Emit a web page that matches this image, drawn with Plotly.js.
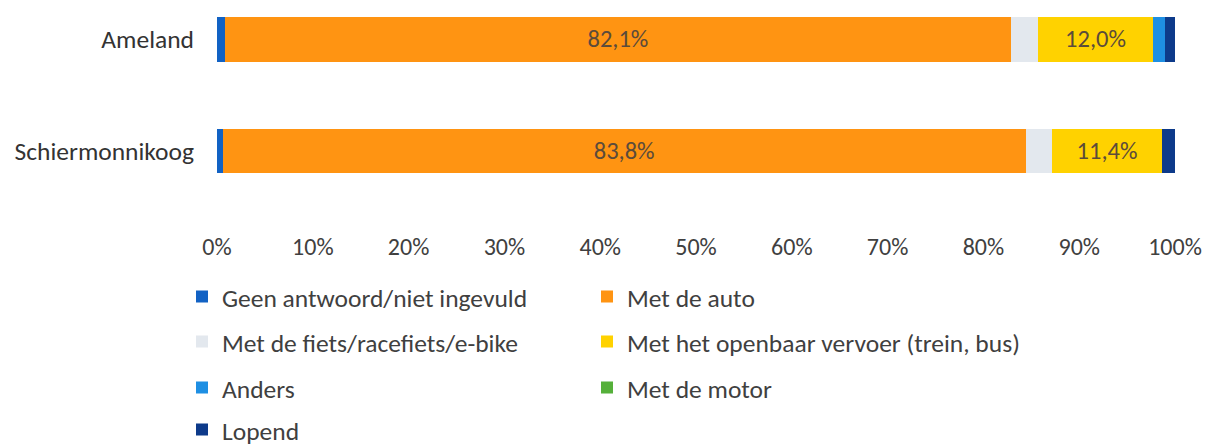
<!DOCTYPE html>
<html>
<head>
<meta charset="utf-8">
<script src="https://cdn.plot.ly/plotly-3.0.1.min.js"></script>
<style>html,body{margin:0;padding:0;background:#fff;}#chart{width:1218px;height:446px;}</style>
</head>
<body>
<div id="chart"></div>
<script>
const categories = ["Ameland", "Schiermonnikoog"];
const seriesNames = [
  "Geen antwoord/niet ingevuld",
  "Met de auto",
  "Met de fiets/racefiets/e-bike",
  "Met het openbaar vervoer (trein, bus)",
  "Anders",
  "Met de motor",
  "Lopend"
];
const geenAntwoord = [0.8, 0.6];
const metDeAuto = [82.1, 83.8];
const metDeFiets = [2.8, 2.8];
const openbaarVervoer = [12.0, 11.4];
const anders = [1.3, 0.0];
const metDeMotor = [0.0, 0.0];
const lopend = [1.0, 1.4];
const xTicks = [0, 10, 20, 30, 40, 50, 60, 70, 80, 90, 100];
const xTickLabels = ["0%", "10%", "20%", "30%", "40%", "50%", "60%", "70%", "80%", "90%", "100%"];

const seriesValues = [geenAntwoord, metDeAuto, metDeFiets, openbaarVervoer, anders, metDeMotor, lopend];
const colors = ["#1262C4", "#FF9412", "#E3E8EE", "#FFD200", "#1E8FE3", "#55B03A", "#0D3A8A"];
const labelled = [false, true, false, true, false, false, false];

const FONT = "Calibri, Carlito, Lato, sans-serif";
const legendPos = [
  [182, 297], [587, 297],
  [182, 342], [587, 342],
  [182, 388], [587, 388],
  [182, 430]
];

const traces = seriesValues.map((vals, i) => ({
  type: "bar",
  orientation: "h",
  name: seriesNames[i],
  y: categories,
  x: vals,
  width: 0.4,
  marker: {color: colors[i], line: {width: 0}},
  texttemplate: labelled[i] ? "%{x:.1f}%" : "",
  textposition: labelled[i] ? "inside" : "none",
  insidetextanchor: "middle",
  textangle: 0,
  constraintext: "none",
  textfont: {family: FONT, size: 24.5, color: "#5b4b3b"},
  hoverinfo: "x+name",
  legend: i === 0 ? "legend" : "legend" + (i + 1),
  showlegend: true
}));

const layout = {
  width: 1218,
  height: 446,
  margin: {l: 217, r: 43, t: 5, b: 221, autoexpand: false},
  paper_bgcolor: "#ffffff",
  plot_bgcolor: "#ffffff",
  barmode: "stack",
  separators: ",.",
  font: {family: FONT, size: 25.5, color: "#404040"},
  xaxis: {
    range: [0, 100],
    tickmode: "array",
    tickvals: xTicks,
    ticktext: xTickLabels,
    tickangle: 0,
    showgrid: false,
    zeroline: false,
    showline: false,
    ticks: "",
    ticklabelstandoff: 5,
    tickfont: {family: FONT, size: 24, color: "#404040"},
    automargin: false,
    fixedrange: true
  },
  yaxis: {
    type: "category",
    categoryorder: "array",
    categoryarray: categories,
    range: [1.667, -0.31],
    showgrid: false,
    zeroline: false,
    showline: false,
    ticks: "",
    ticklabelstandoff: 22,
    tickfont: {family: FONT, size: 25.5, color: "#333333"},
    automargin: false,
    fixedrange: true
  }
};

legendPos.forEach((p, i) => {
  const key = i === 0 ? "legend" : "legend" + (i + 1);
  layout[key] = {
    x: p[0] / 1218,
    y: 1 - p[1] / 446,
    xref: "container",
    yref: "container",
    xanchor: "left",
    yanchor: "middle",
    bgcolor: "rgba(0,0,0,0)",
    borderwidth: 0,
    font: {family: FONT, size: 25.5, color: "#404040"},
    itemclick: false,
    itemdoubleclick: false
  };
});

Plotly.newPlot("chart", traces, layout, {displayModeBar: false, staticPlot: true});
</script>
</body>
</html>
